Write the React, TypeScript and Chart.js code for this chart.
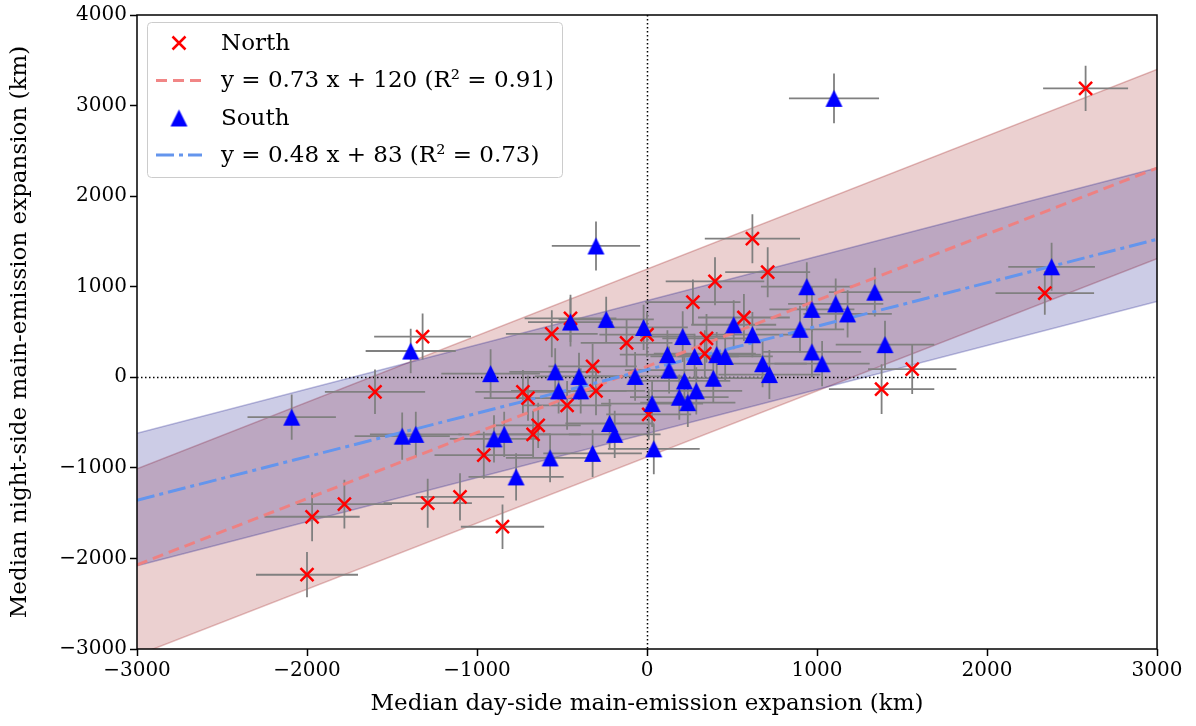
import React, { useEffect, useRef } from "react";
import { Chart, registerables } from "chart.js";

Chart.register(...registerables);

// ---------- data ----------
const xTickValues = [-3000, -2000, -1000, 0, 1000, 2000, 3000];
const yTickValues = [-3000, -2000, -1000, 0, 1000, 2000, 3000, 4000];

const xAxisLabel = "Median day-side main-emission expansion (km)";
const yAxisLabel = "Median night-side main-emission expansion (km)";
const legendLabels = [
  "North",
  "y = 0.73 x + 120 (R\u00b2 = 0.91)",
  "South",
  "y = 0.48 x + 83 (R\u00b2 = 0.73)",
];

const northX = [2580, 2340, 1560, 1380, 620, 400, 710, 570, 270, 350, 340, 10, 0, -120, -300, -320, -450, -470, -560, -640, -670, -700, -730, -960, -850, -1100, -1290, -1320, -1600, -1780, -1970, -2000];
const northY = [3190, 930, 90, -130, 1530, 1060, 1160, 660, 830, 430, 260, -410, 470, 380, -150, 120, 650, -310, 480, -530, -630, -230, -160, -860, -1650, -1320, -1390, 450, -160, -1400, -1540, -2180];
const northXErr = [250, 290, 260, 310, 280, 290, 250, 270, 280, 260, 300, 250, 280, 270, 290, 260, 270, 260, 270, 250, 280, 260, 280, 290, 245, 260, 260, 285, 295, 280, 280, 300];
const northYErr = [250, 240, 275, 275, 270, 265, 275, 260, 250, 270, 260, 280, 250, 260, 270, 250, 260, 270, 260, 250, 260, 250, 240, 260, 245, 260, 270, 255, 245, 270, 270, 250];

const southX = [1100, 2380, 1400, 1340, 1180, 1110, 970, 940, 900, 970, 1030, 720, 680, 620, 510, 460, 410, 390, 290, 280, 240, 220, 210, 190, 130, 120, 40, 30, -20, -70, -190, -220, -240, -300, -320, -390, -400, -450, -520, -540, -570, -770, -840, -900, -920, -1360, -1390, -1440, -2090];
const southY = [3080, 1220, 360, 940, 700, 810, 750, 1000, 530, 280, 150, 30, 150, 470, 580, 230, 250, -10, -150, 230, -280, -40, 450, -220, 80, 250, -790, -290, 550, 10, -630, -510, 640, 1450, -840, -150, 10, 610, -150, 60, -890, -1100, -630, -680, 40, -630, 290, -650, -440];
const southXErr = [265, 255, 290, 270, 260, 280, 250, 270, 260, 290, 280, 300, 260, 270, 250, 280, 260, 290, 270, 260, 280, 270, 250, 290, 260, 280, 270, 300, 260, 280, 270, 260, 280, 260, 290, 270, 260, 250, 280, 270, 260, 280, 270, 260, 290, 270, 265, 280, 260];
const southYErr = [275, 265, 265, 270, 260, 280, 250, 270, 260, 280, 250, 270, 260, 250, 270, 260, 250, 270, 260, 250, 270, 260, 280, 250, 260, 270, 280, 260, 250, 270, 260, 270, 250, 270, 260, 250, 260, 270, 250, 260, 270, 260, 250, 260, 270, 250, 245, 260, 250];

const lineX = [-3000, 3000];
const northFitY = [-2070, 2310];
const southFitY = [-1357, 1523];
const northBandUpperY = [-1010, 3400];
const northBandLowerY = [-3070, 1310];
const southBandUpperY = [-617, 2310];
const southBandLowerY = [-2080, 837];

// ---------- styling ----------
const FONT = "'DejaVu Serif', 'Liberation Serif', serif";
const NORTH_COLOR = "#ff0000";
const SOUTH_COLOR = "#0000ff";
const NORTH_FIT_COLOR = "rgba(240,128,128,0.95)";
const SOUTH_FIT_COLOR = "rgba(100,149,237,1)";
const NORTH_DASH = [11, 6];
const SOUTH_DASH = [18, 5, 4, 5];

const toPts = (xs: number[], ys: number[]) => xs.map((x, i) => ({ x, y: ys[i] }));
const fmt = (v: number) => (v < 0 ? "\u2212" + Math.abs(v) : String(v));

function makeTriangle(): HTMLCanvasElement {
  const c = document.createElement("canvas");
  c.width = 19;
  c.height = 19;
  const g = c.getContext("2d")!;
  g.fillStyle = SOUTH_COLOR;
  g.beginPath();
  g.moveTo(9.5, 1);
  g.lineTo(18, 18);
  g.lineTo(1, 18);
  g.closePath();
  g.fill();
  return c;
}

function drawX(ctx: CanvasRenderingContext2D, cx: number, cy: number) {
  const h = 6.5;
  ctx.save();
  ctx.strokeStyle = NORTH_COLOR;
  ctx.lineWidth = 2.5;
  ctx.beginPath();
  ctx.moveTo(cx - h, cy - h);
  ctx.lineTo(cx + h, cy + h);
  ctx.moveTo(cx + h, cy - h);
  ctx.lineTo(cx - h, cy + h);
  ctx.stroke();
  ctx.restore();
}

export default function App() {
  const ref = useRef<HTMLCanvasElement | null>(null);

  useEffect(() => {
    document.body.style.margin = "0";
    const canvas = ref.current!;
    const tri = makeTriangle();

    const overlay = {
      id: "overlay",
      beforeDatasetDraw(chart: any, args: any) {
        if (args.index !== 4) return;
        const { ctx, chartArea: a, scales } = chart;
        const xs = scales.x;
        const ys = scales.y;
        ctx.save();
        ctx.beginPath();
        ctx.rect(a.left, a.top, a.right - a.left, a.bottom - a.top);
        ctx.clip();
        // zero lines
        ctx.strokeStyle = "#000";
        ctx.lineWidth = 1.5;
        ctx.setLineDash([1.5, 2.5]);
        const x0 = Math.round(xs.getPixelForValue(0)) + 0.5;
        const y0 = Math.round(ys.getPixelForValue(0)) + 0.5;
        ctx.beginPath();
        ctx.moveTo(a.left, y0);
        ctx.lineTo(a.right, y0);
        ctx.moveTo(x0, a.top);
        ctx.lineTo(x0, a.bottom);
        ctx.stroke();
        ctx.setLineDash([]);
        // error bars
        ctx.strokeStyle = "rgba(128,128,128,1)";
        ctx.lineWidth = 1.8;
        const bars = (X: number[], Y: number[], XE: number[], YE: number[]) => {
          for (let i = 0; i < X.length; i++) {
            const px = xs.getPixelForValue(X[i]);
            const py = ys.getPixelForValue(Y[i]);
            ctx.beginPath();
            ctx.moveTo(xs.getPixelForValue(X[i] - XE[i]), py);
            ctx.lineTo(xs.getPixelForValue(X[i] + XE[i]), py);
            ctx.moveTo(px, ys.getPixelForValue(Y[i] - YE[i]));
            ctx.lineTo(px, ys.getPixelForValue(Y[i] + YE[i]));
            ctx.stroke();
          }
        };
        bars(northX, northY, northXErr, northYErr);
        bars(southX, southY, southXErr, southYErr);
        ctx.restore();
      },
      afterDatasetsDraw(chart: any) {
        const { ctx, chartArea: a } = chart;
        ctx.save();
        // frame
        ctx.strokeStyle = "#000";
        ctx.lineWidth = 1.5;
        ctx.strokeRect(a.left, a.top, a.right - a.left, a.bottom - a.top);
        // legend
        ctx.beginPath();
        ctx.roundRect(147.5, 22.5, 415, 155, 4);
        ctx.fillStyle = "rgba(255,255,255,0.8)";
        ctx.fill();
        ctx.strokeStyle = "#cccccc";
        ctx.lineWidth = 1;
        ctx.stroke();
        const rows = [43, 80.5, 118, 155];
        const hx0 = 156;
        const hx1 = 202;
        drawX(ctx, 179, rows[0]);
        ctx.lineWidth = 3;
        ctx.strokeStyle = NORTH_FIT_COLOR;
        ctx.setLineDash(NORTH_DASH);
        ctx.beginPath();
        ctx.moveTo(hx0, rows[1]);
        ctx.lineTo(hx1, rows[1]);
        ctx.stroke();
        ctx.drawImage(tri, 179 - tri.width / 2, rows[2] - tri.height / 2);
        ctx.strokeStyle = SOUTH_FIT_COLOR;
        ctx.setLineDash(SOUTH_DASH);
        ctx.beginPath();
        ctx.moveTo(hx0, rows[3]);
        ctx.lineTo(hx1, rows[3]);
        ctx.stroke();
        ctx.setLineDash([]);
        ctx.fillStyle = "#000";
        ctx.font = `23px ${FONT}`;
        ctx.textBaseline = "middle";
        ctx.textAlign = "left";
        legendLabels.forEach((t, i) => ctx.fillText(t, 221, rows[i] + 1));
        ctx.restore();
      },
    };

    const band = (ys: number[], fill: any, bg: string, border: string, order: number) => ({
      type: "line" as const,
      data: toPts(lineX, ys),
      showLine: true,
      pointRadius: 0,
      borderWidth: 1.5,
      borderColor: border,
      backgroundColor: bg,
      fill,
      order,
    });

    const chart = new Chart(canvas, {
      type: "scatter",
      data: {
        datasets: [
          band(northBandUpperY, "+1", "rgba(165,42,42,0.22)", "rgba(165,42,42,0.3)", 11) as any,
          band(northBandLowerY, false, "rgba(165,42,42,0.22)", "rgba(165,42,42,0.3)", 10),
          band(southBandUpperY, "+1", "rgba(0,0,128,0.2)", "rgba(0,0,128,0.25)", 9),
          band(southBandLowerY, false, "rgba(0,0,128,0.2)", "rgba(0,0,128,0.25)", 8),
          {
            type: "line",
            label: legendLabels[1],
            data: toPts(lineX, northFitY),
            showLine: true,
            pointRadius: 0,
            borderColor: NORTH_FIT_COLOR,
            borderWidth: 3,
            borderDash: NORTH_DASH,
            fill: false,
            order: 6,
          },
          {
            type: "line",
            label: legendLabels[3],
            data: toPts(lineX, southFitY),
            showLine: true,
            pointRadius: 0,
            borderColor: SOUTH_FIT_COLOR,
            borderWidth: 3,
            borderDash: SOUTH_DASH,
            fill: false,
            order: 5,
          },
          {
            label: legendLabels[0],
            data: toPts(northX, northY),
            pointStyle: "crossRot",
            pointRadius: 9.2,
            pointBorderWidth: 2.5,
            borderColor: NORTH_COLOR,
            backgroundColor: NORTH_COLOR,
            showLine: false,
            order: 3,
          },
          {
            label: legendLabels[2],
            data: toPts(southX, southY),
            pointStyle: tri,
            pointRadius: 9,
            borderColor: SOUTH_COLOR,
            backgroundColor: SOUTH_COLOR,
            showLine: false,
            order: 2,
          },
        ],
      },
      options: {
        responsive: false,
        animation: false,
        events: [],
        layout: { padding: { top: 13, right: 39, left: 0, bottom: 0 } },
        plugins: { legend: { display: false }, tooltip: { enabled: false } },
        scales: {
          x: {
            type: "linear",
            min: -3000,
            max: 3000,
            afterBuildTicks: (s: any) => {
              s.ticks = xTickValues.map((v) => ({ value: v }));
            },
            afterFit: (s: any) => {
              s.height = 77;
            },
            ticks: {
              callback: (v: any) => fmt(Number(v)),
              font: { family: FONT, size: 20 },
              color: "#000",
              padding: 3,
              maxRotation: 0,
              autoSkip: false,
            },
            grid: { drawOnChartArea: false, drawTicks: true, tickLength: 7, tickWidth: 1.5, tickColor: "#000" },
            border: { display: false },
            title: {
              display: true,
              text: xAxisLabel,
              color: "#000",
              font: { family: FONT, size: 23 },
              padding: { top: 0, bottom: 8 },
            },
          },
          y: {
            type: "linear",
            min: -3000,
            max: 4000,
            afterBuildTicks: (s: any) => {
              s.ticks = yTickValues.map((v) => ({ value: v }));
            },
            afterFit: (s: any) => {
              s.width = 137;
            },
            ticks: {
              callback: (v: any) => fmt(Number(v)),
              font: { family: FONT, size: 20 },
              color: "#000",
              padding: 3,
              autoSkip: false,
            },
            grid: { drawOnChartArea: false, drawTicks: true, tickLength: 7, tickWidth: 1.5, tickColor: "#000" },
            border: { display: false },
            title: {
              display: true,
              text: yAxisLabel,
              color: "#000",
              font: { family: FONT, size: 23 },
              padding: { top: 6, bottom: 0 },
            },
          },
        },
      },
      plugins: [overlay],
    });

    return () => chart.destroy();
  }, []);

  return (
    <div style={{ position: "absolute", left: 0, top: 0, width: 1196, height: 726, background: "#fff" }}>
      <canvas ref={ref} width={1196} height={726} style={{ display: "block", width: 1196, height: 726 }} />
    </div>
  );
}
